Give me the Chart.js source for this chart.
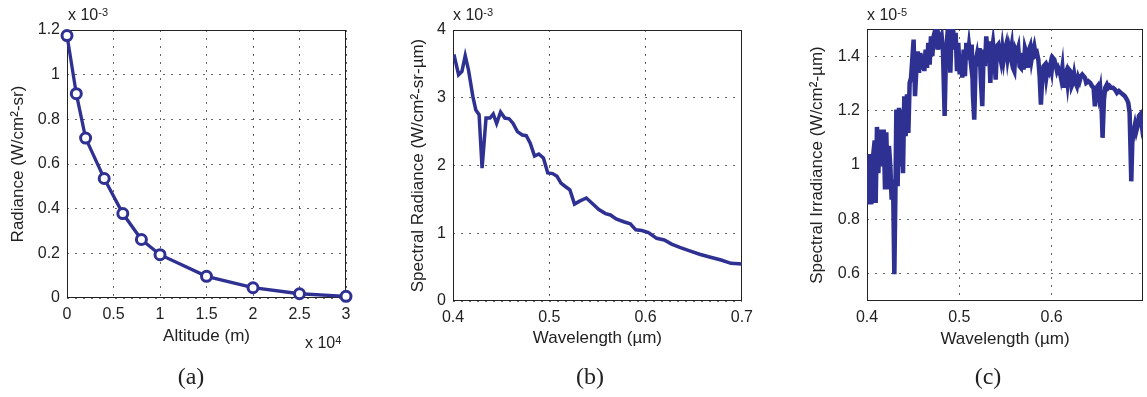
<!DOCTYPE html>
<html>
<head>
<meta charset="utf-8">
<script src="https://cdn.jsdelivr.net/npm/chart.js@4"></script>
<style>
  html, body { margin: 0; padding: 0; background: #fff; }
  body { width: 1147px; height: 397px; position: relative; overflow: hidden;
         font-family: "Liberation Sans", Arial, sans-serif; color: #222; }
  canvas { position: absolute; top: 0; }
  .expo { position: absolute; font-size: 16px; line-height: 16px; white-space: nowrap; }
  .expo sup { font-size: 11px; position: relative; top: -3px; vertical-align: top; }
  .cap { position: absolute; top: 363px; font-family: "Liberation Serif", serif; font-size: 24px;
         line-height: 27px; transform: translateX(-50%); }
</style>
</head>
<body>
<canvas id="chartA" width="380" height="397" style="left:0px"></canvas>
<canvas id="chartB" width="380" height="397" style="left:380px"></canvas>
<canvas id="chartC" width="387" height="397" style="left:760px"></canvas>

<div class="expo" style="left:68px; top:7px">x 10<sup>-3</sup></div>
<div class="expo" style="left:305px; top:335px">x 10<sup>4</sup></div>
<div class="expo" style="left:453px; top:7px">x 10<sup>-3</sup></div>
<div class="expo" style="left:867px; top:7px">x 10<sup>-5</sup></div>

<div class="cap" style="left:191px">(a)</div>
<div class="cap" style="left:590px">(b)</div>
<div class="cap" style="left:988px">(c)</div>

<script>
// (a) radiance vs altitude, y in units of 1e-3
const altitudeM = [0, 1000, 2000, 4000, 6000, 8000, 10000, 15000, 20000, 25000, 30000];
const radianceE3 = [1.175, 0.915, 0.716, 0.535, 0.378, 0.262, 0.194, 0.097, 0.046, 0.019, 0.0075];
const altitudeTicks = [0, 5000, 10000, 15000, 20000, 25000, 30000];
const radianceTicks = [0, 0.2, 0.4, 0.6, 0.8, 1, 1.2];

// (b) spectral radiance, y in units of 1e-3
const wavelengthB = [0.4, 0.4014, 0.4058, 0.4093, 0.4127, 0.4161, 0.4206, 0.4237, 0.4271, 0.4302,
  0.4343, 0.4384, 0.4418, 0.4453, 0.4494, 0.4538, 0.4583, 0.4624, 0.4669, 0.472,
  0.4761, 0.4802, 0.4847, 0.4891, 0.4939, 0.4984, 0.5035, 0.508, 0.5121, 0.5166,
  0.5214, 0.5262, 0.531, 0.5385, 0.5447, 0.5515, 0.5584, 0.5635, 0.5694, 0.5773,
  0.5841, 0.5899, 0.5961, 0.603, 0.6115, 0.6194, 0.627, 0.6355, 0.6458, 0.6561,
  0.6664, 0.6784, 0.6887, 0.7];
const spectralRadianceE3 = [3.6, 3.61, 3.34, 3.39, 3.62, 3.41, 3.02, 2.82, 2.75, 1.96,
  2.7, 2.7, 2.76, 2.62, 2.79, 2.7, 2.69, 2.62, 2.5, 2.45,
  2.44, 2.33, 2.14, 2.17, 2.11, 1.89, 1.88, 1.84, 1.74, 1.69,
  1.64, 1.43, 1.47, 1.52, 1.44, 1.35, 1.29, 1.27, 1.21, 1.17,
  1.14, 1.05, 1.04, 1.01, 0.925, 0.9, 0.84, 0.79, 0.74, 0.69,
  0.65, 0.605, 0.556, 0.546];
const wavelengthTicksB = [0.4, 0.5, 0.6, 0.7];
const spectralRadianceTicks = [0, 1, 2, 3, 4];

// (c) spectral irradiance, y in units of 1e-5
const wavelengthC = [0.4, 0.4014, 0.4029, 0.4047, 0.4065, 0.4083, 0.4094, 0.4108, 0.4123, 0.4137,
  0.4152, 0.4166, 0.4181, 0.4195, 0.4209, 0.4224, 0.4238, 0.4253, 0.4267, 0.4282,
  0.4296, 0.4307, 0.4318, 0.4332, 0.4347, 0.4361, 0.4375, 0.439, 0.4404, 0.4419,
  0.4433, 0.4448, 0.4462, 0.4477, 0.4505, 0.452, 0.4534, 0.4549, 0.4563, 0.4578,
  0.4592, 0.4606, 0.4621, 0.4635, 0.465, 0.4664, 0.4679, 0.4693, 0.4708, 0.4722,
  0.4736, 0.4751, 0.4765, 0.478, 0.4794, 0.4809, 0.4823, 0.4841, 0.4856, 0.4874,
  0.4888, 0.4903, 0.4917, 0.4931, 0.4946, 0.496, 0.4975, 0.4989, 0.5004, 0.5018,
  0.5032, 0.5047, 0.5061, 0.5076, 0.509, 0.5105, 0.5119, 0.5134, 0.5148, 0.5162,
  0.5177, 0.5191, 0.5206, 0.522, 0.5235, 0.5249, 0.5264, 0.5278, 0.5292, 0.5307,
  0.5321, 0.5336, 0.535, 0.5365, 0.5379, 0.5394, 0.5408, 0.5422, 0.5437, 0.5451,
  0.5466, 0.548, 0.5495, 0.5509, 0.5523, 0.5538, 0.5552, 0.5567, 0.5581, 0.5596,
  0.561, 0.5625, 0.5639, 0.5653, 0.5668, 0.5682, 0.5697, 0.5711, 0.5726, 0.574,
  0.5755, 0.5769, 0.5783, 0.5798, 0.5812, 0.5827, 0.5841, 0.5856, 0.587, 0.5884,
  0.5899, 0.5913, 0.5928, 0.5942, 0.5957, 0.5971, 0.5986, 0.6, 0.6014, 0.6029,
  0.6043, 0.6058, 0.6072, 0.6087, 0.6101, 0.6116, 0.613, 0.6144, 0.6159, 0.6173,
  0.6188, 0.6202, 0.6217, 0.6231, 0.6245, 0.626, 0.6274, 0.6289, 0.6303, 0.6318,
  0.6332, 0.6347, 0.6361, 0.6375, 0.6397, 0.6419, 0.6437, 0.6455, 0.6469, 0.6484,
  0.6498, 0.6513, 0.6527, 0.6542, 0.6552, 0.6567, 0.6581, 0.6599, 0.6614, 0.6628,
  0.6643, 0.6664, 0.6686, 0.6708, 0.6729, 0.6751, 0.6773, 0.6794, 0.6816, 0.683,
  0.6845, 0.6852, 0.6863, 0.6874, 0.6888, 0.6903, 0.6917, 0.6931, 0.6946, 0.696,
  0.6975, 0.6989];
const irradianceE5 = [0.98, 0.855, 1.04, 0.855, 1.03, 1.09, 0.86, 1.14, 0.97, 1.13,
  0.995, 1.07, 1.13, 0.91, 1.12, 0.91, 1.07, 0.995, 0.873, 0.947,
  0.598, 0.873, 1.204, 0.922, 1.21, 0.995, 1.204, 0.97, 1.253, 1.106,
  1.26, 1.118, 1.302, 1.32, 1.461, 1.253, 1.345, 1.418, 1.339, 1.412,
  1.351, 1.406, 1.345, 1.424, 1.357, 1.449, 1.369, 1.473, 1.4, 1.473,
  1.492, 1.498, 1.424, 1.473, 1.455, 1.473, 1.418, 1.18, 1.412, 1.492,
  1.498, 1.339, 1.498, 1.51, 1.424, 1.486, 1.345, 1.449, 1.333, 1.406,
  1.321, 1.424, 1.327, 1.449, 1.388, 1.437, 1.394, 1.443, 1.253, 1.167,
  1.382, 1.406, 1.363, 1.43, 1.302, 1.216, 1.424, 1.363, 1.473, 1.406,
  1.455, 1.302, 1.412, 1.449, 1.4, 1.314, 1.437, 1.443, 1.406, 1.382,
  1.43, 1.388, 1.424, 1.443, 1.394, 1.43, 1.406, 1.437, 1.357, 1.345,
  1.424, 1.412, 1.43, 1.363, 1.357, 1.412, 1.351, 1.43, 1.412, 1.357,
  1.424, 1.437, 1.388, 1.418, 1.437, 1.406, 1.412, 1.388, 1.327, 1.222,
  1.321, 1.363, 1.369, 1.321, 1.357, 1.345, 1.369, 1.345, 1.394, 1.388,
  1.369, 1.345, 1.357, 1.345, 1.321, 1.357, 1.284, 1.333, 1.345, 1.302,
  1.351, 1.345, 1.29, 1.302, 1.333, 1.302, 1.29, 1.321, 1.308, 1.327,
  1.333, 1.327, 1.321, 1.302, 1.308, 1.302, 1.29, 1.284, 1.216, 1.284,
  1.29, 1.253, 1.278, 1.204, 1.1, 1.24, 1.284, 1.296, 1.284, 1.29,
  1.284, 1.284, 1.278, 1.265, 1.272, 1.265, 1.259, 1.253, 1.24, 1.229,
  1.192, 1.094, 0.94, 1.082, 1.124, 1.149, 1.124, 1.143, 1.18, 1.186,
  1.149, 1.18];
const wavelengthTicksC = [0.4, 0.5, 0.6];
const irradianceTicks = [0.6, 0.8, 1, 1.2, 1.4];

const lineColor = "#2e3192";
const gridColor = "rgba(0, 0, 0, 0.6)";

Chart.defaults.font.family = '"Liberation Sans", Arial, sans-serif';
Chart.defaults.color = "#222";

const boxBorder = {
  id: "boxBorder",
  beforeDatasetsDraw(chart) {
    const { ctx, chartArea: a } = chart;
    ctx.save();
    ctx.strokeStyle = "#222";
    ctx.lineWidth = 1;
    ctx.strokeRect(Math.round(a.left) + 0.5, Math.round(a.top) + 0.5,
      Math.round(a.right - a.left) - 1, Math.round(a.bottom - a.top) - 1);
    ctx.restore();
  },
};

const fmt = (v) => String(+v.toFixed(2));

function axis(tickValues, min, max, size, title, titlePad, label) {
  return {
    type: "linear",
    min: min,
    max: max,
    afterBuildTicks: (s) => { s.ticks = tickValues.map((v) => ({ value: v })); },
    afterFit: (s) => { if (s.isHorizontal()) s.height = size; else s.width = size; },
    ticks: { padding: 7, font: { size: 16 }, callback: label || fmt },
    grid: { color: gridColor, drawTicks: false, lineWidth: 1 },
    border: { display: false, dash: [2, 6] },
    title: { display: true, text: title, font: { size: 17 }, padding: titlePad },
  };
}

function toPoints(xs, ys) {
  return xs.map((x, i) => ({ x: x, y: ys[i] }));
}

new Chart(document.getElementById("chartA"), {
  type: "line",
  data: {
    datasets: [{
      data: toPoints(altitudeM, radianceE3),
      borderColor: lineColor,
      borderWidth: 3.3,
      pointRadius: 5,
      pointBorderWidth: 3,
      pointBorderColor: lineColor,
      pointBackgroundColor: "#fff",
      tension: 0,
      clip: false,
    }],
  },
  options: {
    responsive: false,
    animation: false,
    layout: { padding: { left: 0, top: 30, right: 34, bottom: 0 } },
    plugins: { legend: { display: false }, tooltip: { enabled: false } },
    scales: {
      x: axis(altitudeTicks, 0, 30000, 99, "Altitude (m)", { bottom: 50 }, (v) => fmt(v / 1e4)),
      y: axis(radianceTicks, 0, 1.2, 67, "Radiance (W/cm²-sr)", { top: 8 }),
    },
  },
  plugins: [boxBorder],
});

new Chart(document.getElementById("chartB"), {
  type: "line",
  data: {
    datasets: [{
      data: toPoints(wavelengthB, spectralRadianceE3),
      borderColor: lineColor,
      borderWidth: 3.5,
      pointRadius: 0,
      tension: 0,
    }],
  },
  options: {
    responsive: false,
    animation: false,
    layout: { padding: { left: 0, top: 30, right: 16, bottom: 0 } },
    plugins: { legend: { display: false }, tooltip: { enabled: false } },
    scales: {
      x: axis(wavelengthTicksB, 0.4, 0.7, 96, "Wavelength (µm)", { bottom: 48 }),
      y: axis(spectralRadianceTicks, 0, 4, 73, "Spectral Radiance (W/cm²-sr-µm)", { top: 28 }),
    },
  },
  plugins: [boxBorder],
});

new Chart(document.getElementById("chartC"), {
  type: "line",
  data: {
    datasets: [{
      data: toPoints(wavelengthC, irradianceE5),
      borderColor: lineColor,
      borderWidth: 4.5,
      pointRadius: 0,
      tension: 0,
      clip: 0,
    }],
  },
  options: {
    responsive: false,
    animation: false,
    layout: { padding: { left: 0, top: 29, right: 4, bottom: 0 } },
    plugins: { legend: { display: false }, tooltip: { enabled: false } },
    scales: {
      x: axis(wavelengthTicksC, 0.4, 0.699, 96, "Wavelength (µm)", { bottom: 47 }),
      y: axis(irradianceTicks, 0.5, 1.5, 107, "Spectral Irradiance (W/cm²-µm)", { top: 47 }),
    },
  },
  plugins: [boxBorder],
});
</script>
</body>
</html>
